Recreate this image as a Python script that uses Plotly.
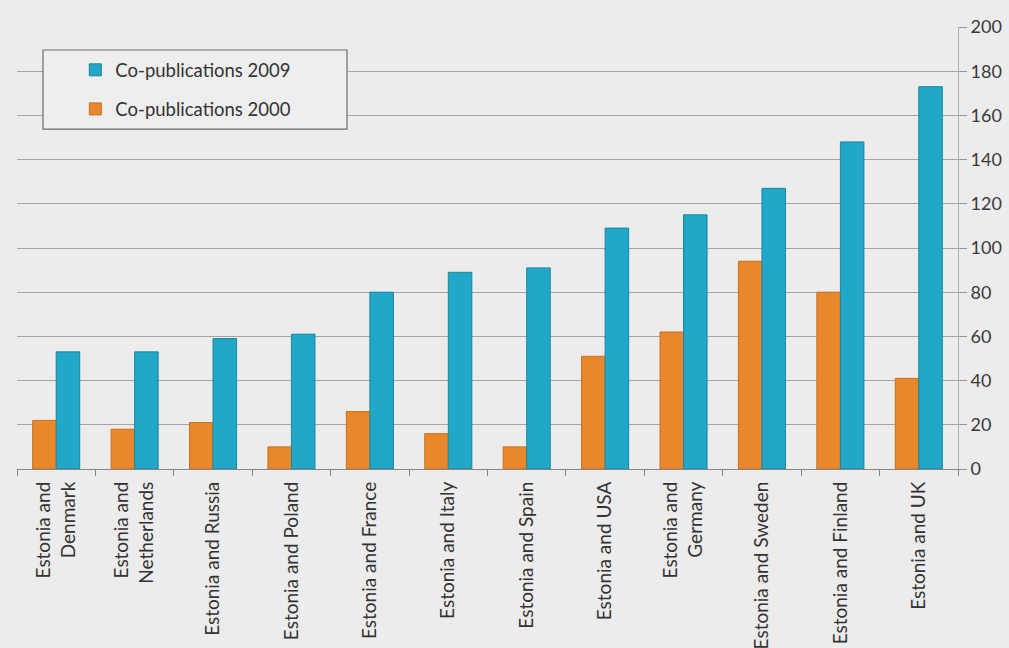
import plotly.graph_objects as go

categories = [
    "Estonia and<br>Denmark", "Estonia and<br>Netherlands", "Estonia and Russia",
    "Estonia and Poland", "Estonia and France", "Estonia and Italy",
    "Estonia and Spain", "Estonia and USA", "Estonia and<br>Germany",
    "Estonia and Sweden", "Estonia and Finland", "Estonia and UK",
]
copub_2000 = [22, 18, 21, 10, 26, 16, 10, 51, 62, 94, 80, 41]
copub_2009 = [53, 53, 59, 61, 80, 89, 91, 109, 115, 127, 148, 173]
y_ticks = [0, 20, 40, 60, 80, 100, 120, 140, 160, 180, 200]

FONT = "Lato"
fig = go.Figure()
fig.add_trace(go.Bar(
    x=categories, y=copub_2000, name="Co-publications 2000",
    marker=dict(color="#e8872b", line=dict(color="#c96f1c", width=1)),
    legendgroup="a", legendrank=2,
))
fig.add_trace(go.Bar(
    x=categories, y=copub_2009, name="Co-publications 2009",
    marker=dict(color="#22a7c8", line=dict(color="#16889f", width=1)),
    legendgroup="b", legendrank=1,
))

fig.add_shape(type="rect", xref="paper", yref="paper",
              x0=0.0276, x1=0.3507, y0=0.769, y1=0.948,
              line=dict(color="#6e6a6a", width=1.2), fillcolor="#eeeeee",
              layer="above")

fig.update_layout(
    width=1009, height=648,
    margin=dict(l=17, r=51, t=27, b=179, autoexpand=False),
    paper_bgcolor="#ececec", plot_bgcolor="#ececec",
    barmode="group", bargap=0.4, bargroupgap=0,
    font=dict(family=FONT, size=17, color="#3a3a3a"),
    legend=dict(
        x=0.062, y=0.945, xanchor="left", yanchor="top",
        traceorder="grouped", tracegroupgap=12,
        bgcolor="rgba(0,0,0,0)", borderwidth=0,
        font=dict(family=FONT, size=18.5, color="#333333"),
        itemwidth=30,
    ),
    xaxis=dict(
        automargin=False,
        tickangle=-90, tickson="boundaries", ticks="outside", ticklen=6,
        ticklabelstandoff=4,
        tickcolor="#8a8484", showline=True, linecolor="#8a8484", linewidth=1.2,
        tickfont=dict(family=FONT, size=19, color="#333333"),
        showgrid=False,
    ),
    yaxis=dict(
        automargin=False,
        side="right", range=[0, 200], tickvals=y_ticks,
        ticks="outside", ticklen=8, tickcolor="#9a9393",
        showline=True, linecolor="#b5b0b0", linewidth=1,
        gridcolor="#aaa29f", gridwidth=1.2, zeroline=False,
        tickfont=dict(family=FONT, size=18, color="#3a3a3a"),
    ),
)

fig.write_html("out.html")
